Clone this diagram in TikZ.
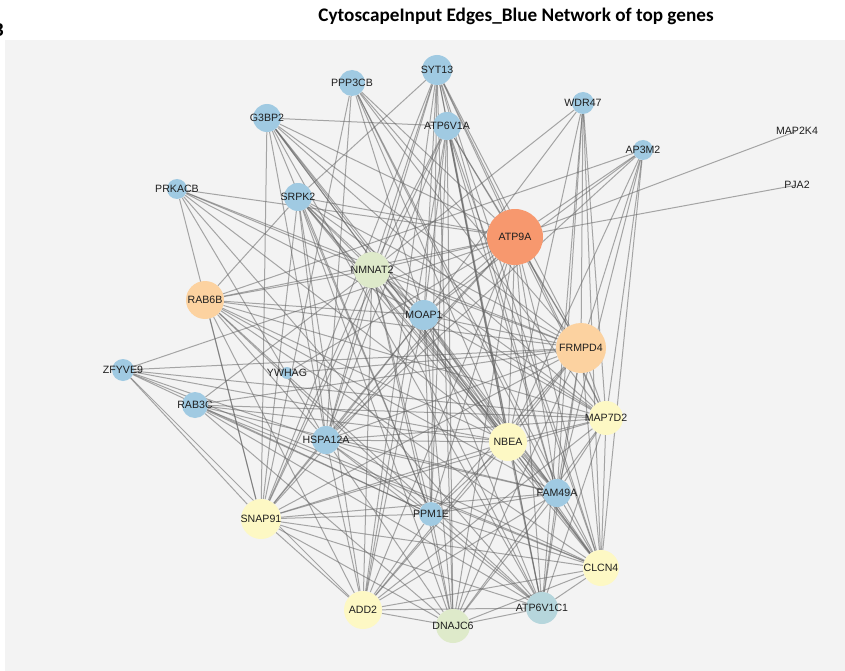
\documentclass[tikz,border=0pt]{standalone}
\usepackage{fontspec}
\setmainfont{Liberation Sans}
\newfontfamily\titlefont{Carlito}
\pgfdeclarelayer{panel}
\pgfdeclarelayer{edgelayer}
\pgfsetlayers{panel,edgelayer,main}
\definecolor{panelgray}{RGB}{243,243,243}
\definecolor{nblue}{RGB}{160,202,226}
\definecolor{norange}{RGB}{247,152,110}
\definecolor{npeach}{RGB}{252,210,160}
\definecolor{ngreen}{RGB}{222,234,202}
\definecolor{nyellow}{RGB}{253,248,196}
\definecolor{nteal}{RGB}{182,214,220}
\definecolor{edgegray}{RGB}{100,100,100}
\definecolor{labelcol}{RGB}{30,30,30}
\tikzset{
  gene/.style n args={3}{circle, inner sep=0pt, minimum size=#1, fill=#2,
     label={[font=\fontsize{10.6}{12}\selectfont, text=labelcol, inner sep=0pt]center:#3}},
  bare/.style={circle, inner sep=0pt, minimum size=2pt,
     label={[font=\fontsize{10.6}{12}\selectfont, text=labelcol, inner sep=0pt]center:#1}},
  link/.style={draw=edgegray, draw opacity=0.55, line width=1pt}
}
\begin{document}
\begin{tikzpicture}[x=1pt,y=-1pt]
\useasboundingbox (0,0) rectangle (845,671);
\begin{pgfonlayer}{panel}
\fill[white] (0,0) rectangle (845,671);
\fill[panelgray] (5,40) rectangle (845,671);
\end{pgfonlayer}
\node[font=\titlefont\bfseries\fontsize{19.2}{21}\selectfont, text=black] (title) at (516,16) {CytoscapeInput Edges\_Blue Network of top genes};
\node[font=\titlefont\bfseries\fontsize{20}{22}\selectfont, anchor=east, inner sep=0pt] (letter) at (4,30) {B};

\node[gene={30pt}{nblue}{SYT13}] (syt) at (437,70) {};
\node[gene={26pt}{nblue}{PPP3CB}] (ppp) at (352,83) {};
\node[gene={28pt}{nblue}{G3BP2}] (g3b) at (267,118) {};
\node[gene={28pt}{nblue}{ATP6V1A}] (v1a) at (447,126) {};
\node[gene={22pt}{nblue}{WDR47}] (wdr) at (583,103) {};
\node[gene={20pt}{nblue}{AP3M2}] (ap3) at (643,150) {};
\node[bare={MAP2K4}] (m2k) at (797,131) {};
\node[bare={PJA2}] (pja) at (797,185) {};
\node[gene={20pt}{nblue}{PRKACB}] (prk) at (177,189) {};
\node[gene={28pt}{nblue}{SRPK2}] (srp) at (298,197) {};
\node[gene={56pt}{norange}{ATP9A}] (atp) at (515,237) {};
\node[gene={36pt}{ngreen}{NMNAT2}] (nmn) at (372,270) {};
\node[gene={38pt}{npeach}{RAB6B}] (rab6) at (205,300) {};
\node[gene={30pt}{nblue}{MOAP1}] (moa) at (424,315) {};
\node[gene={50pt}{npeach}{FRMPD4}] (frm) at (581,348) {};
\node[gene={22pt}{nblue}{ZFYVE9}] (zfy) at (123,370) {};
\node[gene={12pt}{nblue}{YWHAG}] (ywh) at (287,373) {};
\node[gene={26pt}{nblue}{RAB3C}] (rab3) at (195,405) {};
\node[gene={34pt}{nyellow}{MAP7D2}] (m7d) at (606,418) {};
\node[gene={28pt}{nblue}{HSPA12A}] (hsp) at (326,440) {};
\node[gene={38pt}{nyellow}{NBEA}] (nbe) at (508,442) {};
\node[gene={28pt}{nblue}{FAM49A}] (fam) at (557,493) {};
\node[gene={40pt}{nyellow}{SNAP91}] (snp) at (261,519) {};
\node[gene={24pt}{nblue}{PPM1E}] (ppm) at (431,514) {};
\node[gene={36pt}{nyellow}{CLCN4}] (clc) at (601,568) {};
\node[gene={38pt}{nyellow}{ADD2}] (add) at (363,610) {};
\node[gene={34pt}{ngreen}{DNAJC6}] (dna) at (453,626) {};
\node[gene={32pt}{nteal}{ATP6V1C1}] (c1) at (542,608) {};

\begin{pgfonlayer}{edgelayer}
\foreach \a/\b in {
 atp/m2k, atp/pja,
 wdr/nmn, wdr/moa, wdr/frm, wdr/nbe, wdr/m7d, wdr/fam, wdr/clc, wdr/c1,
 ap3/atp, ap3/rab6, ap3/moa, ap3/frm, ap3/nbe, ap3/m7d, ap3/clc, ap3/fam, ap3/hsp,
 prk/atp, prk/nmn, prk/moa, prk/hsp, prk/nbe, prk/snp, prk/frm, prk/c1,
 zfy/atp, zfy/frm, zfy/snp, zfy/hsp, zfy/nbe, zfy/ppm, zfy/add, zfy/clc, zfy/m7d,
 rab3/nmn, rab3/frm, rab3/nbe, rab3/ppm, rab3/dna, rab3/clc, rab3/c1, rab3/fam, rab3/m7d,
 ywh/frm, ywh/atp,
 rab6/nmn, rab6/atp, rab6/srp, rab6/moa, rab6/frm, rab6/nbe, rab6/hsp, rab6/snp, rab6/m7d, rab6/fam, rab6/clc, rab6/ppm, rab6/add, rab6/c1,
 g3b/v1a, g3b/snp, g3b/moa, g3b/nbe, g3b/atp, g3b/frm, g3b/hsp, g3b/ppm, g3b/clc, g3b/fam, g3b/c1, g3b/m7d,
 ppp/hsp, ppp/atp, ppp/frm, ppp/nbe, ppp/m7d, ppp/moa, ppp/clc, ppp/fam, ppp/snp,
 syt/srp, syt/nmn, syt/moa, syt/atp, syt/frm, syt/nbe, syt/m7d, syt/ppm, syt/hsp, syt/snp, syt/dna, syt/c1, syt/fam, syt/clc, syt/add,
 v1a/nmn, v1a/moa, v1a/atp, v1a/frm, v1a/nbe, v1a/hsp, v1a/snp, v1a/ppm, v1a/dna, v1a/c1, v1a/fam, v1a/add, v1a/clc,
 srp/atp, srp/nmn, srp/moa, srp/frm, srp/nbe, srp/hsp, srp/snp, srp/ppm, srp/add, srp/dna, srp/clc, srp/m7d, srp/fam,
 atp/nmn, atp/moa, atp/frm, atp/nbe, atp/hsp, atp/snp, atp/ppm, atp/add, atp/dna, atp/c1, atp/clc, atp/fam, atp/m7d,
 nmn/moa, nmn/frm, nmn/nbe, nmn/hsp, nmn/snp, nmn/ppm, nmn/add, nmn/dna, nmn/c1, nmn/clc, nmn/m7d, nmn/fam,
 moa/frm, moa/nbe, moa/hsp, moa/snp, moa/ppm, moa/add, moa/dna, moa/c1, moa/clc, moa/fam, moa/m7d,
 frm/nbe, frm/m7d, frm/hsp, frm/snp, frm/ppm, frm/add, frm/dna, frm/c1, frm/clc, frm/fam,
 hsp/nbe, hsp/snp, hsp/ppm, hsp/add, hsp/dna, hsp/c1, hsp/clc, hsp/fam, hsp/m7d,
 nbe/m7d, nbe/snp, nbe/ppm, nbe/add, nbe/dna, nbe/c1, nbe/clc, nbe/fam,
 m7d/clc, m7d/fam, m7d/snp, m7d/add, m7d/dna, m7d/c1,
 snp/add, snp/dna, snp/ppm, snp/fam, snp/clc, snp/c1,
 ppm/add, ppm/dna, ppm/c1, ppm/clc, ppm/fam,
 fam/clc, fam/c1, fam/dna, fam/add,
 add/dna, add/c1, add/clc, dna/c1, dna/clc, c1/clc}
 { \draw[link] (\a) -- (\b); }
\end{pgfonlayer}
\end{tikzpicture}
\end{document}
